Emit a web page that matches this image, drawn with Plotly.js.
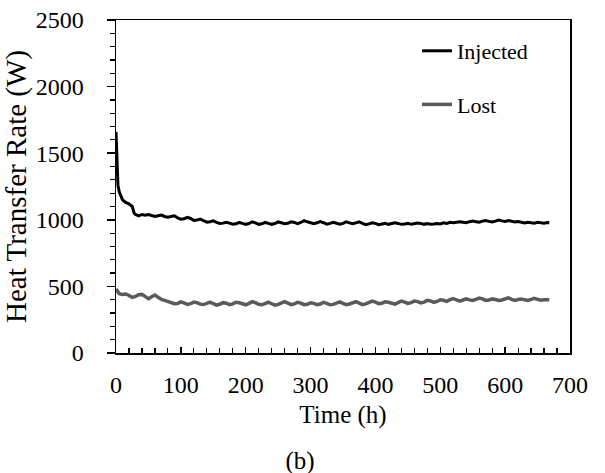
<!DOCTYPE html>
<html>
<head>
<meta charset="utf-8">
<script src="https://cdn.plot.ly/plotly-3.0.1.min.js"></script>
<style>html,body{margin:0;padding:0;background:#fff;font-family:'Liberation Serif';}
#wrap{position:relative;width:605px;height:473px;}
#chart{position:absolute;left:0;top:0;width:605px;height:473px;}
#caption{position:absolute;left:270px;width:60px;top:446px;height:30px;line-height:30px;text-align:center;font-family:'Liberation Serif';font-size:25px;color:#000;z-index:2;}</style>
</head>
<body>
<div id="wrap">
<div id="chart"></div>
<div id="caption">(b)</div>
</div>
<script>
// Time (h) and heat transfer rate (W)
const timeInjected = [0,1,2,3,5,8,10,15,20,25,28,30,35,40,45,50,55,60,65,70,75,80,85,90,95,100,105,110,115,120,125,130,135,140,145,150,155,160,165,170,175,180,185,190,195,200,205,210,215,220,225,230,235,240,245,250,255,260,265,270,275,280,285,290,295,300,305,310,315,320,325,330,335,340,345,350,355,360,365,370,375,380,385,390,395,400,405,410,415,420,425,430,435,440,445,450,455,460,465,470,475,480,485,490,495,500,505,510,515,520,525,530,535,540,545,550,555,560,565,570,575,580,585,590,595,600,605,610,615,620,625,630,635,640,645,650,655,660,665,668];
const injected = [1660,1450,1320,1260,1210,1170,1150,1130,1120,1100,1050,1040,1030,1040,1035,1040,1035,1025,1030,1035,1025,1020,1025,1030,1015,1005,1008,1018,1010,995,998,1005,993,982,985,992,980,972,975,982,975,967,970,980,973,966,972,985,977,966,970,980,973,966,972,984,978,970,974,985,980,971,980,993,985,975,971,978,986,978,967,973,981,974,967,973,984,977,970,977,984,973,963,969,977,973,963,969,973,966,969,977,973,966,969,973,966,969,976,973,966,972,966,969,973,969,977,973,981,978,982,986,982,978,986,990,986,982,990,995,988,983,990,998,992,988,995,991,984,987,980,976,982,979,975,982,979,975,979,978];
const timeLost = [0,2,5,10,15,20,25,30,35,40,45,50,55,60,65,70,75,80,85,90,95,100,105,110,115,120,125,130,135,140,145,150,155,160,165,170,175,180,185,190,195,200,205,210,215,220,225,230,235,240,245,250,255,260,265,270,275,280,285,290,295,300,305,310,315,320,325,330,335,340,345,350,355,360,365,370,375,380,385,390,395,400,405,410,415,420,425,430,435,440,445,450,455,460,465,470,475,480,485,490,495,500,505,510,515,520,525,530,535,540,545,550,555,560,565,570,575,580,585,590,595,600,605,610,615,620,625,630,635,640,645,650,655,660,665,668];
const lost = [480,465,445,440,443,432,418,425,437,440,420,408,423,435,418,402,395,385,377,370,372,383,376,364,370,382,378,367,364,374,382,370,360,366,378,374,363,369,381,377,366,362,373,385,378,366,362,373,381,370,359,365,377,385,374,363,369,381,374,363,366,377,373,362,368,380,373,362,365,377,384,373,363,368,380,385,374,363,369,380,389,382,371,374,385,381,371,367,378,390,382,372,378,390,386,376,382,395,391,380,387,400,396,388,400,409,398,390,398,406,399,394,402,413,406,395,398,406,402,395,398,406,414,403,395,402,406,399,395,402,410,403,396,399,403,399];
const seriesNames = ['Injected','Lost'];
const xTicks = [0,100,200,300,400,500,600,700];
const yTicks = [0,500,1000,1500,2000,2500];

const serif = 'Liberation Serif';
function fnt(size) { return {family: serif, size: size, color: '#000'}; }

function draw() {
  const traces = [
    {x: timeInjected, y: injected, name: seriesNames[0], type: 'scatter', mode: 'lines',
     line: {color: '#000000', width: 3}, legendgroup: 'a'},
    {x: timeLost, y: lost, name: seriesNames[1], type: 'scatter', mode: 'lines',
     line: {color: '#5a5a5a', width: 3.5}, legendgroup: 'b'}
  ];
  const layout = {
    width: 605, height: 473,
    margin: {l: 116, r: 35, t: 20, b: 120},
    paper_bgcolor: 'rgba(0,0,0,0)', plot_bgcolor: '#fff',
    font: fnt(24),
    showlegend: true,
    legend: {x: 0.663, y: 0.97, xanchor: 'left', yanchor: 'top', bgcolor: 'rgba(0,0,0,0)',
             traceorder: 'grouped', tracegroupgap: 22, itemwidth: 30, font: fnt(22)},
    xaxis: {range: [0, 700], tickvals: xTicks, ticktext: xTicks.map(String), showgrid: false, zeroline: false,
            showline: true, linecolor: '#000', linewidth: 1.5, mirror: true, tickfont: fnt(24),
            ticks: 'inside', ticklen: 6, tickwidth: 1.5, tickcolor: '#000', ticklabelstandoff: 10,
            minor: {dtick: 20, tick0: 0, ticks: 'inside', ticklen: 5, tickwidth: 1.2, tickcolor: '#000', showgrid: false},
            title: {text: 'Time (h)', font: fnt(25), standoff: 8}},
    yaxis: {range: [0, 2500], tickvals: yTicks, ticktext: yTicks.map(String), showgrid: false, zeroline: false,
            showline: true, linecolor: '#000', linewidth: 1.5, mirror: true, tickfont: fnt(24),
            ticks: 'outside', ticklen: 8, tickwidth: 1.5, tickcolor: '#000', ticklabelstandoff: 18,
            minor: {dtick: 100, tick0: 0, ticks: 'outside', ticklen: 5, tickwidth: 1.2, tickcolor: '#000', showgrid: false},
            title: {text: 'Heat Transfer Rate (W)', font: fnt(29), standoff: 3}}
  };
  return Plotly.react('chart', traces, layout, {displayModeBar: false, staticPlot: true});
}
draw();
if (document.fonts && document.fonts.load) {
  document.fonts.load('24px "Liberation Serif"').then(draw);
}
</script>
</body>
</html>
